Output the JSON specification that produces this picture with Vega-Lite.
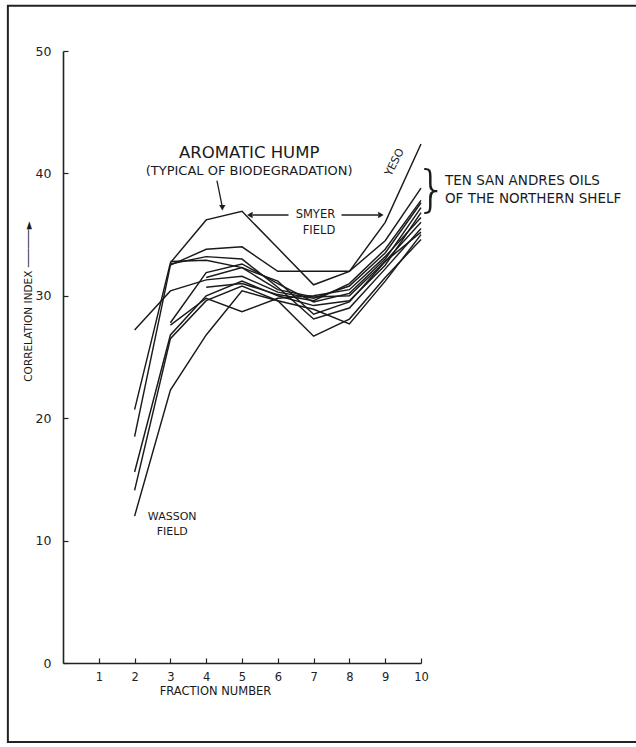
{
  "$schema": "https://vega.github.io/schema/vega-lite/v6.json",
  "autosize": {"type": "none"},
  "width": 358,
  "height": 612,
  "padding": {"left": 63, "top": 51, "right": 215, "bottom": 84},
  "background": "white",
  "config": {
    "view": {"stroke": null},
    "font": "DejaVu Sans",
    "text": {"font": "DejaVu Sans", "color": "#1a1a1a"},
    "axis": {"labelOverlap": false, "grid": false, "labelFont": "DejaVu Sans", "titleFont": "DejaVu Sans", "tickSize": -5, "tickColor": "#222", "tickWidth": 1.2, "domainColor": "#222", "domainWidth": 1.6, "labelColor": "#222", "titleColor": "#1a1a1a", "titleFontWeight": "normal"}
  },
  "data": {"values": [{}]},
  "datasets": {
    "oils": [
      {"oil": "Smyer", "fraction": 2, "ci": 20.7}, {"oil": "Smyer", "fraction": 3, "ci": 32.7}, {"oil": "Smyer", "fraction": 4, "ci": 36.2}, {"oil": "Smyer", "fraction": 5, "ci": 36.9}, {"oil": "Smyer", "fraction": 6, "ci": 33.9}, {"oil": "Smyer", "fraction": 7, "ci": 30.9}, {"oil": "Smyer", "fraction": 8, "ci": 32.0}, {"oil": "Smyer", "fraction": 9, "ci": 36.0}, {"oil": "Smyer", "fraction": 10, "ci": 42.4},
      {"oil": "L2", "fraction": 2, "ci": 18.5}, {"oil": "L2", "fraction": 3, "ci": 32.5}, {"oil": "L2", "fraction": 4, "ci": 33.8}, {"oil": "L2", "fraction": 5, "ci": 34.0}, {"oil": "L2", "fraction": 6, "ci": 32.0}, {"oil": "L2", "fraction": 7, "ci": 32.0}, {"oil": "L2", "fraction": 8, "ci": 32.0}, {"oil": "L2", "fraction": 9, "ci": 34.5}, {"oil": "L2", "fraction": 10, "ci": 38.8},
      {"oil": "L3", "fraction": 2, "ci": 27.2}, {"oil": "L3", "fraction": 3, "ci": 30.4}, {"oil": "L3", "fraction": 4, "ci": 31.3}, {"oil": "L3", "fraction": 5, "ci": 31.6}, {"oil": "L3", "fraction": 6, "ci": 30.3}, {"oil": "L3", "fraction": 7, "ci": 29.8}, {"oil": "L3", "fraction": 8, "ci": 30.8}, {"oil": "L3", "fraction": 9, "ci": 33.5}, {"oil": "L3", "fraction": 10, "ci": 37.6},
      {"oil": "L4", "fraction": 2, "ci": 15.6}, {"oil": "L4", "fraction": 3, "ci": 26.8}, {"oil": "L4", "fraction": 4, "ci": 30.0}, {"oil": "L4", "fraction": 5, "ci": 31.2}, {"oil": "L4", "fraction": 6, "ci": 30.0}, {"oil": "L4", "fraction": 7, "ci": 29.2}, {"oil": "L4", "fraction": 8, "ci": 29.6}, {"oil": "L4", "fraction": 9, "ci": 32.5}, {"oil": "L4", "fraction": 10, "ci": 36.8},
      {"oil": "L5", "fraction": 2, "ci": 14.1}, {"oil": "L5", "fraction": 3, "ci": 26.5}, {"oil": "L5", "fraction": 4, "ci": 29.6}, {"oil": "L5", "fraction": 5, "ci": 30.8}, {"oil": "L5", "fraction": 6, "ci": 29.6}, {"oil": "L5", "fraction": 7, "ci": 28.9}, {"oil": "L5", "fraction": 8, "ci": 27.7}, {"oil": "L5", "fraction": 9, "ci": 31.2}, {"oil": "L5", "fraction": 10, "ci": 35.0},
      {"oil": "Wasson", "fraction": 2, "ci": 12.0}, {"oil": "Wasson", "fraction": 3, "ci": 22.3}, {"oil": "Wasson", "fraction": 4, "ci": 26.8}, {"oil": "Wasson", "fraction": 5, "ci": 30.4}, {"oil": "Wasson", "fraction": 6, "ci": 29.6}, {"oil": "Wasson", "fraction": 7, "ci": 26.7}, {"oil": "Wasson", "fraction": 8, "ci": 28.1}, {"oil": "Wasson", "fraction": 9, "ci": 31.5}, {"oil": "Wasson", "fraction": 10, "ci": 34.6},
      {"oil": "L7", "fraction": 3, "ci": 27.8}, {"oil": "L7", "fraction": 4, "ci": 31.9}, {"oil": "L7", "fraction": 5, "ci": 32.6}, {"oil": "L7", "fraction": 6, "ci": 31.0}, {"oil": "L7", "fraction": 7, "ci": 29.5}, {"oil": "L7", "fraction": 8, "ci": 30.2}, {"oil": "L7", "fraction": 9, "ci": 33.0}, {"oil": "L7", "fraction": 10, "ci": 37.2},
      {"oil": "L8", "fraction": 3, "ci": 27.6}, {"oil": "L8", "fraction": 4, "ci": 29.8}, {"oil": "L8", "fraction": 5, "ci": 28.7}, {"oil": "L8", "fraction": 6, "ci": 29.8}, {"oil": "L8", "fraction": 7, "ci": 30.0}, {"oil": "L8", "fraction": 8, "ci": 30.5}, {"oil": "L8", "fraction": 9, "ci": 33.2}, {"oil": "L8", "fraction": 10, "ci": 36.4},
      {"oil": "L9", "fraction": 3, "ci": 32.8}, {"oil": "L9", "fraction": 4, "ci": 32.9}, {"oil": "L9", "fraction": 5, "ci": 32.3}, {"oil": "L9", "fraction": 6, "ci": 31.2}, {"oil": "L9", "fraction": 7, "ci": 28.5}, {"oil": "L9", "fraction": 8, "ci": 29.5}, {"oil": "L9", "fraction": 9, "ci": 32.8}, {"oil": "L9", "fraction": 10, "ci": 36.0},
      {"oil": "L10", "fraction": 4, "ci": 30.7}, {"oil": "L10", "fraction": 5, "ci": 31.0}, {"oil": "L10", "fraction": 6, "ci": 30.1}, {"oil": "L10", "fraction": 7, "ci": 29.6}, {"oil": "L10", "fraction": 8, "ci": 31.0}, {"oil": "L10", "fraction": 9, "ci": 33.8}, {"oil": "L10", "fraction": 10, "ci": 37.8},
      {"oil": "L11", "fraction": 3, "ci": 32.6}, {"oil": "L11", "fraction": 4, "ci": 33.2}, {"oil": "L11", "fraction": 5, "ci": 33.0}, {"oil": "L11", "fraction": 6, "ci": 30.7}, {"oil": "L11", "fraction": 7, "ci": 28.1}, {"oil": "L11", "fraction": 8, "ci": 29.0}, {"oil": "L11", "fraction": 9, "ci": 32.2}, {"oil": "L11", "fraction": 10, "ci": 35.5},
      {"oil": "L12", "fraction": 4, "ci": 31.5}, {"oil": "L12", "fraction": 5, "ci": 32.3}, {"oil": "L12", "fraction": 6, "ci": 30.5}, {"oil": "L12", "fraction": 7, "ci": 29.9}, {"oil": "L12", "fraction": 8, "ci": 30.0}, {"oil": "L12", "fraction": 9, "ci": 32.8}, {"oil": "L12", "fraction": 10, "ci": 35.2}
    ]
  },
  "layer": [
    {
      "data": {"name": "oils"},
      "mark": {"type": "line", "color": "#1a1a1a", "strokeWidth": 1.45},
      "encoding": {
        "x": {
          "field": "fraction", "type": "quantitative",
          "scale": {"domain": [0, 10], "nice": false, "zero": false},
          "axis": {
            "values": [1, 2, 3, 4, 5, 6, 7, 8, 9, 10], "tickCount": 20, "format": "d", "labelOverlap": false, "labelFlush": false,
            "labelFontSize": 11.5, "labelPadding": 13,
            "title": "FRACTION NUMBER", "titleFontSize": 11.5,
            "titleX": 152, "titleY": 22, "titleBaseline": "top"
          }
        },
        "y": {
          "field": "ci", "type": "quantitative",
          "scale": {"domain": [0, 50], "nice": false, "zero": false},
          "axis": {
            "values": [0, 10, 20, 30, 40, 50], "tickCount": 20, "format": "d", "labelOverlap": false, "labelFlush": false,
            "labelFontSize": 12.5, "labelPadding": 17,
            "title": "CORRELATION INDEX ──────►", "titleFontSize": 10.5,
            "titleX": -35, "titleY": 250, "titleAngle": -90, "titleAlign": "center", "titleBaseline": "middle"
          }
        },
        "detail": {"field": "oil", "type": "nominal"}
      }
    },
    {
      "mark": {"type": "rect", "fill": "transparent", "stroke": "#222", "strokeWidth": 2, "clip": false},
      "encoding": {
        "x": {"datum": -1.54, "type": "quantitative"},
        "x2": {"datum": 17.5},
        "y": {"datum": 53.7, "type": "quantitative"},
        "y2": {"datum": -6.45}
      }
    },
    {
      "mark": {"type": "text", "fontSize": 16.5, "align": "center", "baseline": "middle"},
      "encoding": {"x": {"datum": 5.2, "type": "quantitative"}, "y": {"datum": 41.7, "type": "quantitative"}, "text": {"value": "AROMATIC HUMP"}}
    },
    {
      "mark": {"type": "text", "fontSize": 13, "align": "center", "baseline": "middle"},
      "encoding": {"x": {"datum": 5.2, "type": "quantitative"}, "y": {"datum": 40.2, "type": "quantitative"}, "text": {"value": "(TYPICAL OF BIODEGRADATION)"}}
    },
    {
      "mark": {"type": "rule", "color": "#1e1e1e", "strokeWidth": 1.3},
      "encoding": {"x": {"datum": 4.3, "type": "quantitative"}, "x2": {"datum": 4.44}, "y": {"datum": 39.4, "type": "quantitative"}, "y2": {"datum": 37.4}}
    },
    {
      "mark": {"type": "point", "shape": "triangle-down", "filled": true, "color": "#1e1e1e", "size": 40, "opacity": 1},
      "encoding": {"x": {"datum": 4.45, "type": "quantitative"}, "y": {"datum": 37.2, "type": "quantitative"}}
    },
    {
      "mark": {"type": "text", "fontSize": 11.5, "align": "center", "baseline": "middle"},
      "encoding": {"x": {"datum": 7.05, "type": "quantitative"}, "y": {"datum": 36.6, "type": "quantitative"}, "text": {"value": "SMYER"}}
    },
    {
      "mark": {"type": "text", "fontSize": 11.5, "align": "center", "baseline": "middle"},
      "encoding": {"x": {"datum": 7.15, "type": "quantitative"}, "y": {"datum": 35.3, "type": "quantitative"}, "text": {"value": "FIELD"}}
    },
    {
      "mark": {"type": "rule", "color": "#1e1e1e", "strokeWidth": 1.3},
      "encoding": {"x": {"datum": 6.3, "type": "quantitative"}, "x2": {"datum": 5.3}, "y": {"datum": 36.6, "type": "quantitative"}}
    },
    {
      "mark": {"type": "point", "shape": "triangle-left", "filled": true, "color": "#1e1e1e", "size": 40, "opacity": 1},
      "encoding": {"x": {"datum": 5.22, "type": "quantitative"}, "y": {"datum": 36.6, "type": "quantitative"}}
    },
    {
      "mark": {"type": "rule", "color": "#1e1e1e", "strokeWidth": 1.3},
      "encoding": {"x": {"datum": 7.78, "type": "quantitative"}, "x2": {"datum": 8.8}, "y": {"datum": 36.6, "type": "quantitative"}}
    },
    {
      "mark": {"type": "point", "shape": "triangle-right", "filled": true, "color": "#1e1e1e", "size": 40, "opacity": 1},
      "encoding": {"x": {"datum": 8.88, "type": "quantitative"}, "y": {"datum": 36.6, "type": "quantitative"}}
    },
    {
      "mark": {"type": "text", "fontSize": 11, "align": "center", "baseline": "middle", "angle": -63},
      "encoding": {"x": {"datum": 9.27, "type": "quantitative"}, "y": {"datum": 40.9, "type": "quantitative"}, "text": {"value": "YESO"}}
    },
    {
      "mark": {"type": "text", "fontSize": 50, "font": "DejaVu Sans", "fontWeight": 200, "align": "center", "baseline": "middle"},
      "encoding": {"x": {"datum": 10.3, "type": "quantitative"}, "y": {"datum": 38.6, "type": "quantitative"}, "text": {"value": "}"}}
    },
    {
      "mark": {"type": "text", "fontSize": 13.5, "align": "left", "baseline": "middle"},
      "encoding": {"x": {"datum": 10.67, "type": "quantitative"}, "y": {"datum": 39.4, "type": "quantitative"}, "text": {"value": "TEN SAN ANDRES OILS"}}
    },
    {
      "mark": {"type": "text", "fontSize": 13.5, "align": "left", "baseline": "middle"},
      "encoding": {"x": {"datum": 10.67, "type": "quantitative"}, "y": {"datum": 37.9, "type": "quantitative"}, "text": {"value": "OF THE NORTHERN SHELF"}}
    },
    {
      "mark": {"type": "text", "fontSize": 11, "align": "center", "baseline": "middle"},
      "encoding": {"x": {"datum": 3.05, "type": "quantitative"}, "y": {"datum": 11.9, "type": "quantitative"}, "text": {"value": "WASSON"}}
    },
    {
      "mark": {"type": "text", "fontSize": 11, "align": "center", "baseline": "middle"},
      "encoding": {"x": {"datum": 3.05, "type": "quantitative"}, "y": {"datum": 10.7, "type": "quantitative"}, "text": {"value": "FIELD"}}
    }
  ]
}
